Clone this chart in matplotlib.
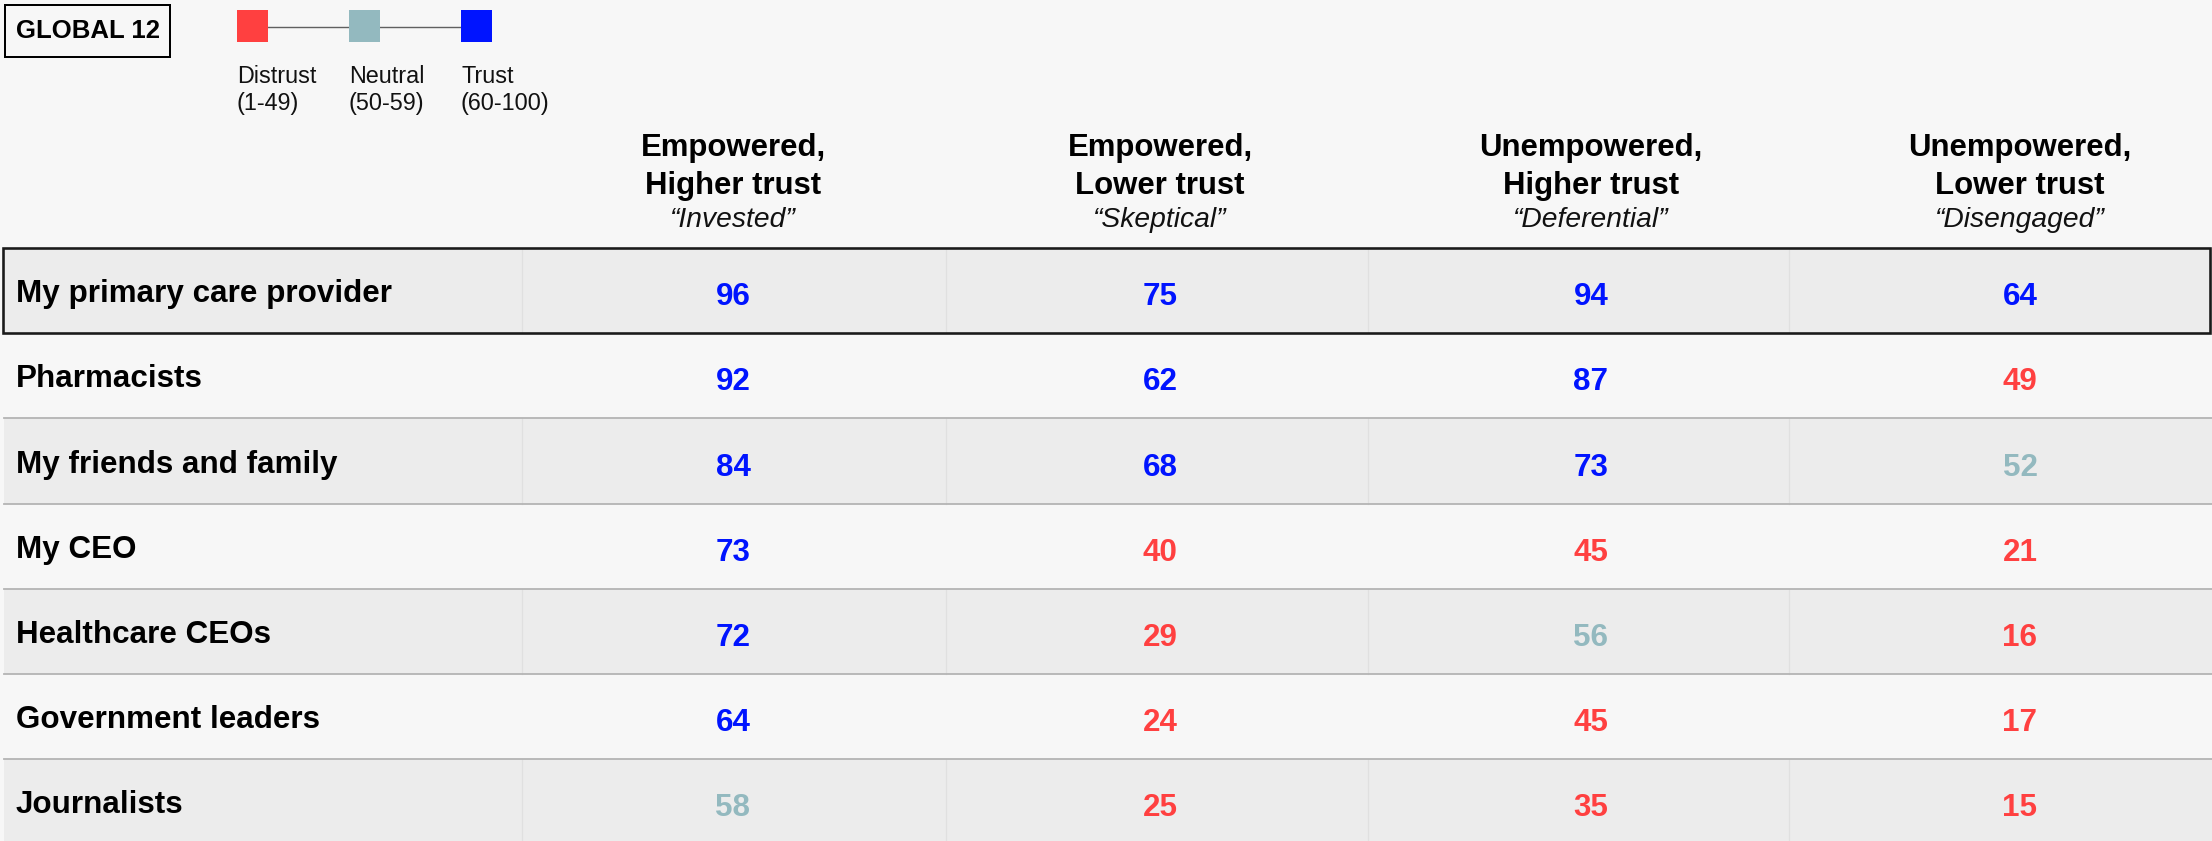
import matplotlib
matplotlib.use("Agg")
import matplotlib.pyplot as plt
from matplotlib.patches import Rectangle

# ---------------- data ----------------
badge = "GLOBAL 12"
legend_labels = ["Distrust", "Neutral", "Trust"]
legend_ranges = ["(1-49)", "(50-59)", "(60-100)"]
group_line1 = ["Empowered,", "Empowered,", "Unempowered,", "Unempowered,"]
group_line2 = ["Higher trust", "Lower trust", "Higher trust", "Lower trust"]
group_nick = ["\u201cInvested\u201d", "\u201cSkeptical\u201d", "\u201cDeferential\u201d", "\u201cDisengaged\u201d"]
rows = ["My primary care provider", "Pharmacists", "My friends and family",
        "My CEO", "Healthcare CEOs", "Government leaders", "Journalists"]
invested = [96, 92, 84, 73, 72, 64, 58]
skeptical = [75, 62, 68, 40, 29, 24, 25]
deferential = [94, 87, 73, 45, 56, 45, 35]
disengaged = [64, 49, 52, 21, 16, 17, 15]
columns = [invested, skeptical, deferential, disengaged]

# ---------------- style ----------------
RED = "#FF4040"
TEAL = "#93B9BF"
BLUE = "#0014FF"
BG = "#F7F7F7"
SHADE = "#ECECEC"
FONT = "Liberation Sans"


def level_color(v):
    if v < 50:
        return RED
    if v < 60:
        return TEAL
    return BLUE


W, H = 2212, 841
fig = plt.figure(figsize=(W / 100, H / 100), dpi=100, facecolor=BG)
ax = fig.add_axes([0, 0, 1, 1])
ax.set_xlim(0, W)
ax.set_ylim(H, 0)
ax.axis("off")
ax.set_facecolor(BG)

px = 0.72  # points per pixel at dpi 100

# badge
ax.add_patch(Rectangle((5, 5), 165, 52, facecolor="none", edgecolor="black", lw=2 * px))
ax.text(87.5, 31, badge, ha="center", va="center", fontsize=18.5, fontweight="bold",
        family=FONT, color="black")

# legend
sq_x = [237, 349, 461]
sq_w, sq_h = 31, 32
ax.plot([sq_x[0] + sq_w / 2, sq_x[-1] + sq_w / 2], [27, 27], color="#606060", lw=1.4 * px, zorder=1)
for x, c, lab, rng in zip(sq_x, [RED, TEAL, BLUE], legend_labels, legend_ranges):
    ax.add_patch(Rectangle((x, 10), sq_w, sq_h, facecolor=c, edgecolor="none", zorder=2))
    ax.text(x, 83, lab, ha="left", va="baseline", fontsize=16.8, family=FONT, color="#111111")
    ax.text(x, 110, rng, ha="left", va="baseline", fontsize=16.8, family=FONT, color="#111111")

# table geometry
col_centers = [733, 1160, 1591, 2020]
col_bounds = [522, 946, 1368, 1789]
top = 248
row_h = 85.2

# headers
for cx, l1, l2, nk in zip(col_centers, group_line1, group_line2, group_nick):
    ax.text(cx, 156, l1, ha="center", va="baseline", fontsize=22.4, fontweight="bold", family=FONT)
    ax.text(cx, 194, l2, ha="center", va="baseline", fontsize=22.4, fontweight="bold", family=FONT)
    ax.text(cx, 227, nk, ha="center", va="baseline", fontsize=20.3, style="italic", family=FONT,
            color="#111111")

# rows
for i, name in enumerate(rows):
    y0 = top + i * row_h
    shaded = (i % 2 == 0)
    if shaded:
        ax.add_patch(Rectangle((4, y0), W, row_h, facecolor=SHADE, edgecolor="none", zorder=0))
        for xb in col_bounds:
            ax.plot([xb, xb], [y0, y0 + row_h], color="#E0E0E0", lw=1.2 * px, zorder=0.5)
    if i >= 2:
        ax.plot([4, W], [y0, y0], color="#B4B4B4", lw=1.8 * px, zorder=1)
    yc = y0 + row_h / 2
    ax.text(16, yc + 11.5, name, ha="left", va="baseline", fontsize=22.6, fontweight="bold",
            family=FONT, color="black")
    for cx, col in zip(col_centers, columns):
        v = col[i]
        ax.text(cx, yc + 14.5, str(v), ha="center", va="baseline", fontsize=22.6,
                fontweight="bold", family=FONT, color=level_color(v))

# highlight box around first row
ax.add_patch(Rectangle((3, top), W - 5, row_h, facecolor="none", edgecolor="#1A1A1A",
                       lw=2.6 * px, zorder=3))

fig.savefig("out.png", dpi=100, facecolor=BG)
